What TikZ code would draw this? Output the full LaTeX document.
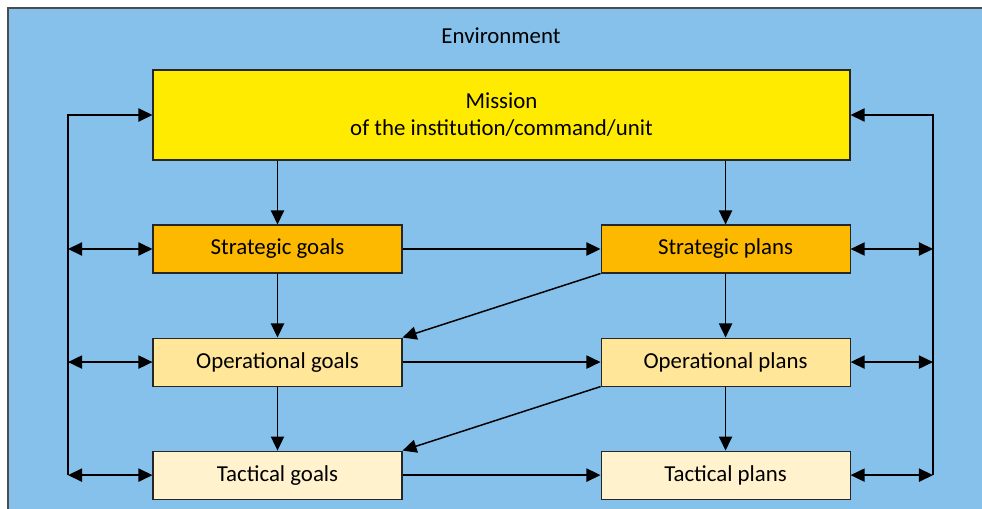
\documentclass[tikz,border=0pt]{standalone}
\usepackage{fontspec}
\setmainfont{Carlito}
\usetikzlibrary{arrows.meta,positioning}

\definecolor{envblue}{HTML}{85C1EB}
\definecolor{missioncol}{HTML}{FFEB00}
\definecolor{stratcol}{HTML}{FCB900}
\definecolor{opercol}{HTML}{FFE699}
\definecolor{tactcol}{HTML}{FFF2CC}

\tikzset{
  box/.style={draw=black!85, line width=0.6pt, minimum width=4.98cm, minimum height=0.96cm, font=\fontsize{13}{15.5}\selectfont},
  arr/.style={-{Triangle[length=8pt,width=7.5pt]}, line width=0.85pt},
  dblarr/.style={{Triangle[length=8pt,width=7.5pt]}-{Triangle[length=8pt,width=7.5pt]}, line width=0.85pt}
}

\begin{document}
\begin{tikzpicture}
      \useasboundingbox (0,0) rectangle (19.64,-10.16);
      % Environment
      \fill[envblue, draw=black!70, line width=1pt] (0.16,-0.16) rectangle (19.9,-10.4);
      \node[font=\fontsize{13}{15.5}\selectfont] (env) at (10.02,-0.72) {Environment};
      % Define nodes
      \node[box, fill=missioncol, minimum width=13.94cm, minimum height=1.8cm, align=center]
            (mission) at (10.03,-2.3) {Mission\\of the institution/command/unit};
      \node[box, fill=stratcol] (sgoal) at (5.55,-4.98) {Strategic goals};
      \node[box, fill=stratcol, right=3.96cm of sgoal] (splan) {Strategic plans};
      \node[box, fill=opercol, below=1.28cm of sgoal] (ogoal) {Operational goals};
      \node[box, fill=opercol, right=3.96cm of ogoal] (oplan) {Operational plans};
      \node[box, fill=tactcol, below=1.28cm of ogoal] (tgoal) {Tactical goals};
      \node[box, fill=tactcol, right=3.96cm of tgoal] (tplan) {Tactical plans};
      \coordinate (lx) at (1.36,0);
      \coordinate (rx) at (18.66,0);
      % Connect nodes
      \draw[arr] (sgoal |- mission.south) -- (sgoal);
      \draw[arr] (splan |- mission.south) -- (splan);
      \draw[arr] (sgoal) -- (ogoal);
      \draw[arr] (ogoal) -- (tgoal);
      \draw[arr] (splan) -- (oplan);
      \draw[arr] (oplan) -- (tplan);
      \draw[arr] (sgoal) -- (splan);
      \draw[arr] (ogoal) -- (oplan);
      \draw[arr] (tgoal) -- (tplan);
      \draw[arr] (splan.south west) -- (ogoal.north east);
      \draw[arr] (oplan.south west) -- (tgoal.north east);
      % Feedback lines
      \draw[arr] (tgoal.west -| lx) -- (mission.west -| lx) -- (mission.west);
      \draw[arr] (tplan.east -| rx) -- (mission.east -| rx) -- (mission.east);
      \foreach \g in {sgoal, ogoal, tgoal}
        \draw[dblarr] (\g.west -| lx) -- (\g.west);
      \foreach \p in {splan, oplan, tplan}
        \draw[dblarr] (\p.east) -- (\p.east -| rx);
    \end{tikzpicture}
\end{document}
